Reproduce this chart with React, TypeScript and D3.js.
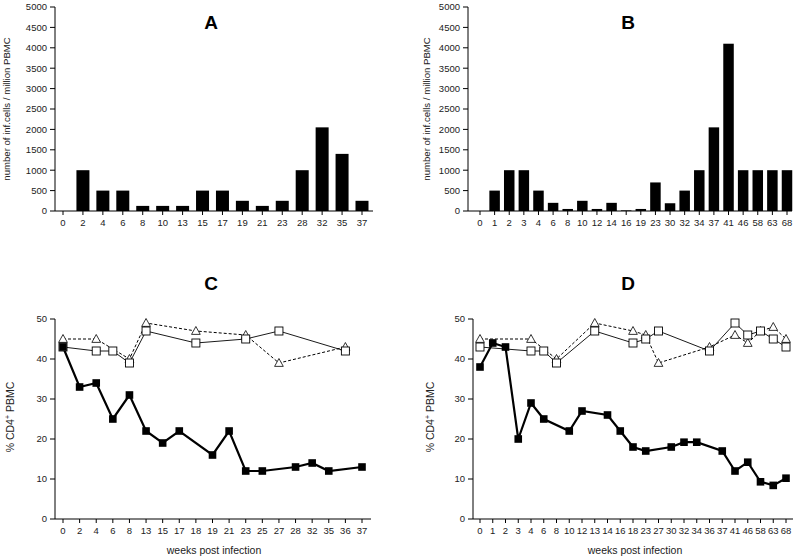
import React from 'react';
import * as d3 from 'd3';

// ---------- DATA ----------
const weeksA = ['0', '2', '4', '6', '8', '10', '13', '15', '17', '19', '21', '23', '28', '32', '35', '37'];
const cellsA = [0, 1000, 500, 500, 125, 125, 125, 500, 500, 250, 125, 250, 1000, 2050, 1400, 250];

const weeksB = ['0', '1', '2', '3', '4', '6', '8', '10', '12', '14', '16', '19', '23', '30', '32', '34', '37', '41', '46', '58', '63', '68'];
const cellsB = [0, 500, 1000, 1000, 500, 200, 50, 250, 50, 200, 15, 50, 700, 190, 500, 1000, 2050, 4100, 1000, 1000, 1000, 1000];

const barTicks = [0, 500, 1000, 1500, 2000, 2500, 3000, 3500, 4000, 4500, 5000];
const lineTicks = [0, 10, 20, 30, 40, 50];

const weeksC = ['0', '2', '4', '6', '8', '13', '15', '17', '18', '19', '21', '23', '25', '27', '28', '32', '35', '36', '37'];
const infectedC: [string, number][] = [
  ['0', 43], ['2', 33], ['4', 34], ['6', 25], ['8', 31], ['13', 22], ['15', 19], ['17', 22],
  ['19', 16], ['21', 22], ['23', 12], ['25', 12], ['28', 13], ['32', 14], ['35', 12], ['37', 13],
];
const controlSqC: [string, number][] = [
  ['0', 43], ['4', 42], ['6', 42], ['8', 39], ['13', 47], ['18', 44], ['23', 45], ['27', 47], ['36', 42],
];
const controlTriC: [string, number][] = [
  ['0', 45], ['4', 45], ['8', 40], ['13', 49], ['18', 47], ['23', 46], ['27', 39], ['36', 43],
];

const weeksD = ['0', '1', '2', '3', '4', '6', '8', '10', '12', '13', '14', '16', '18', '23', '27', '30', '32', '34', '36', '37', '41', '46', '58', '63', '68'];
const infectedD: [string, number][] = [
  ['0', 38], ['1', 44], ['2', 43], ['3', 20], ['4', 29], ['6', 25], ['10', 22], ['12', 27], ['14', 26],
  ['16', 22], ['18', 18], ['23', 17], ['30', 18], ['32', 19.2], ['34', 19.2], ['37', 17], ['41', 12],
  ['46', 14.2], ['58', 9.3], ['63', 8.4], ['68', 10.2],
];
const controlSqD: [string, number][] = [
  ['0', 43], ['4', 42], ['6', 42], ['8', 39], ['13', 47], ['18', 44], ['23', 45], ['27', 47], ['36', 42],
  ['41', 49], ['46', 46], ['58', 47], ['63', 45], ['68', 43],
];
const controlTriD: [string, number][] = [
  ['0', 45], ['4', 45], ['8', 40], ['13', 49], ['18', 47], ['23', 46], ['27', 39], ['36', 43],
  ['41', 46], ['46', 44], ['58', 47], ['63', 48], ['68', 45],
];

// ---------- STYLE ----------
const FONT = '"Liberation Sans", Arial, Helvetica, sans-serif';
const TICK_FS = 9.5;

type BarProps = {
  title: string; weeks: string[]; values: number[];
  left: number; right: number; xFirst: number; xLast: number;
  top: number; bottom: number; barW: number; titleX: number; ylabelX: number;
};

function BarPanel(p: BarProps) {
  const x = d3.scalePoint<string>().domain(p.weeks).range([p.xFirst, p.xLast]);
  const y = d3.scaleLinear().domain([0, 5000]).range([p.bottom, p.top]);
  return (
    <g>
      <text x={p.titleX} y={29} textAnchor="middle" fontSize={19} fontWeight="bold" fontFamily={FONT}>{p.title}</text>
      <text transform={`translate(${p.ylabelX},${(p.top + p.bottom) / 2}) rotate(-90)`} textAnchor="middle"
        fontSize={9.6} fontFamily={FONT} fill="#222">number of inf.cells / million PBMC</text>
      {p.values.map((v, i) => (
        <rect key={i} x={(x(p.weeks[i]) as number) - p.barW / 2} y={y(v)} width={p.barW}
          height={Math.max(0, y(0) - y(v))} fill="#000" />
      ))}
      <line x1={p.left} x2={p.left} y1={y(0)} y2={y(5000)} stroke="#000" strokeWidth={1} />
      <line x1={p.left} x2={p.right} y1={y(0)} y2={y(0)} stroke="#000" strokeWidth={1} />
      {barTicks.map(t => (
        <g key={t}>
          <line x1={p.left - 5} x2={p.left} y1={y(t)} y2={y(t)} stroke="#000" />
          <text x={p.left - 8} y={y(t) + 3.3} textAnchor="end" fontSize={TICK_FS} fontFamily={FONT} fill="#222">{t}</text>
        </g>
      ))}
      {p.weeks.map(w => (
        <g key={w}>
          <line x1={x(w)} x2={x(w)} y1={y(0)} y2={y(0) + 4} stroke="#000" />
          <text x={x(w)} y={y(0) + 15} textAnchor="middle" fontSize={TICK_FS} fontFamily={FONT} fill="#222">{w}</text>
        </g>
      ))}
    </g>
  );
}

type LineProps = {
  title: string; weeks: string[]; infected: [string, number][]; sq: [string, number][]; tri: [string, number][];
  left: number; right: number; xFirst: number; xLast: number; top: number; bottom: number;
  titleX: number; ylabelX: number; xlabelX: number;
};

function LinePanel(p: LineProps) {
  const x = d3.scalePoint<string>().domain(p.weeks).range([p.xFirst, p.xLast]);
  const y = d3.scaleLinear().domain([0, 50]).range([p.bottom, p.top]);
  const line = d3.line<[string, number]>().x(d => x(d[0]) as number).y(d => y(d[1]));
  const tri = (cx: number, cy: number, s: number) =>
    `M${cx},${cy - s * 0.6}L${cx + s * 0.58},${cy + s * 0.45}L${cx - s * 0.58},${cy + s * 0.45}Z`;
  return (
    <g>
      <text x={p.titleX} y={290} textAnchor="middle" fontSize={19} fontWeight="bold" fontFamily={FONT}>{p.title}</text>
      <text transform={`translate(${p.ylabelX},${(p.top + p.bottom) / 2 - 2}) rotate(-90)`} textAnchor="middle"
        fontSize={10.5} fontFamily={FONT} fill="#222">
        % CD4<tspan dy={-4} fontSize={7}>+</tspan><tspan dy={4}> PBMC</tspan>
      </text>
      <text x={p.xlabelX} y={554} textAnchor="middle" fontSize={10.5} fontFamily={FONT} fill="#222">weeks post infection</text>
      <line x1={p.left} x2={p.left} y1={y(0)} y2={y(50)} stroke="#000" />
      <line x1={p.left} x2={p.right} y1={y(0)} y2={y(0)} stroke="#000" />
      {lineTicks.map(t => (
        <g key={t}>
          <line x1={p.left - 5} x2={p.left} y1={y(t)} y2={y(t)} stroke="#000" />
          <text x={p.left - 8} y={y(t) + 3.3} textAnchor="end" fontSize={TICK_FS} fontFamily={FONT} fill="#222">{t}</text>
        </g>
      ))}
      {p.weeks.map(w => (
        <g key={w}>
          <line x1={x(w)} x2={x(w)} y1={y(0)} y2={y(0) + 4} stroke="#000" />
          <text x={x(w)} y={y(0) + 15} textAnchor="middle" fontSize={TICK_FS} fontFamily={FONT} fill="#222">{w}</text>
        </g>
      ))}
      {/* triangles dashed */}
      <path d={line(p.tri) || ''} fill="none" stroke="#000" strokeWidth={1} strokeDasharray="3,2" />
      {/* open squares thin solid */}
      <path d={line(p.sq) || ''} fill="none" stroke="#000" strokeWidth={0.9} />
      {/* infected thick */}
      <path d={line(p.infected) || ''} fill="none" stroke="#000" strokeWidth={2.2} />
      {p.tri.map((d, i) => (
        <path key={'t' + i} d={tri(x(d[0]) as number, y(d[1]), 7.5)} fill="#fff" stroke="#000" strokeWidth={0.8} />
      ))}
      {p.sq.map((d, i) => (
        <rect key={'s' + i} x={(x(d[0]) as number) - 4} y={y(d[1]) - 4} width={8} height={8} fill="#fff" stroke="#000" strokeWidth={0.9} />
      ))}
      {p.infected.map((d, i) => (
        <rect key={'f' + i} x={(x(d[0]) as number) - 3.8} y={y(d[1]) - 3.8} width={7.6} height={7.6} fill="#000" />
      ))}
    </g>
  );
}

export default function App() {
  return (
    <svg width={800} height={560} style={{ position: 'absolute', left: 0, top: 0, background: '#fff' }}>
      <rect x={0} y={0} width={800} height={560} fill="#fff" />
      <BarPanel title="A" weeks={weeksA} values={cellsA} left={55} right={373} xFirst={63} xLast={362}
        top={7} bottom={211} barW={13} titleX={211} ylabelX={10} />
      <BarPanel title="B" weeks={weeksB} values={cellsB} left={468} right={792} xFirst={480} xLast={787}
        top={7} bottom={211} barW={10.5} titleX={628} ylabelX={430} />
      <LinePanel title="C" weeks={weeksC} infected={infectedC} sq={controlSqC} tri={controlTriC}
        left={55} right={371} xFirst={63} xLast={362} top={319} bottom={519} titleX={211} ylabelX={14} xlabelX={214} />
      <LinePanel title="D" weeks={weeksD} infected={infectedD} sq={controlSqD} tri={controlTriD}
        left={473} right={793} xFirst={480} xLast={786} top={319} bottom={519} titleX={628} ylabelX={434} xlabelX={635} />
    </svg>
  );
}
